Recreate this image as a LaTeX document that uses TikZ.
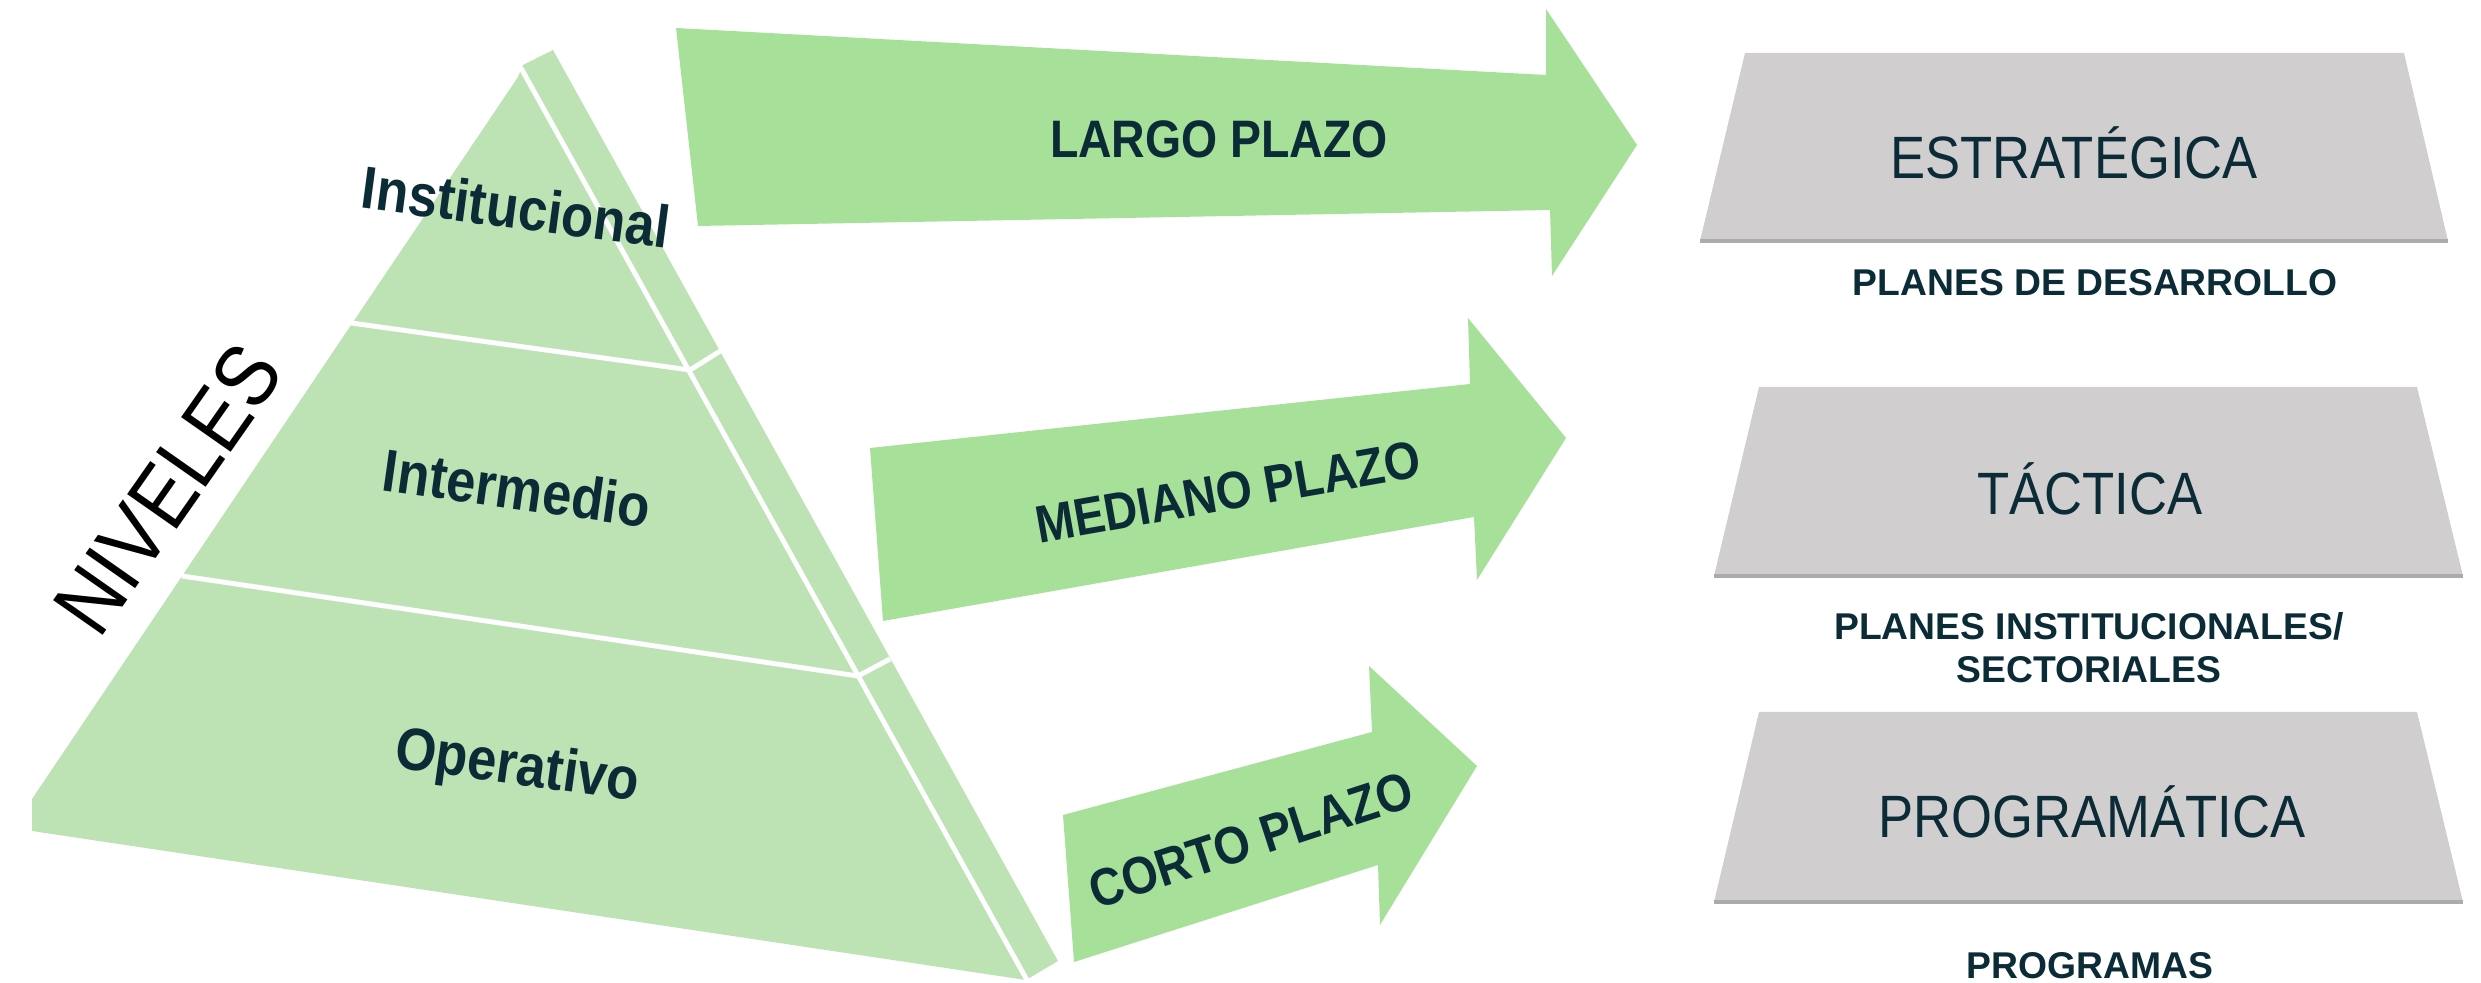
\documentclass[tikz,border=0pt]{standalone}
\usepackage{fontspec}
\setmainfont{Liberation Sans}
\newfontfamily\angosta[FakeStretch=0.88]{Liberation Sans}
\definecolor{pyr}{HTML}{BDE3B5}
\definecolor{flecha}{HTML}{A7E199}
\definecolor{gris}{HTML}{D0CECF}
\definecolor{grisosc}{HTML}{ABABAB}
\definecolor{tinta}{HTML}{0B2C37}

\begin{document}
\begin{tikzpicture}[x=0.01cm, y=-0.01cm,
  nivel/.style={font=\angosta\bfseries\fontsize{17}{20}\selectfont, text=tinta, rotate=-8, inner sep=0},
  plazo/.style={fill=flecha},
  plazotxt/.style={font=\angosta\bfseries\fontsize{15}{18}\selectfont, text=tinta, inner sep=0},
  etapa/.style={fill=gris},
  etapatxt/.style={font=\angosta\fontsize{17}{20}\selectfont, text=tinta, inner sep=0},
  plan/.style={font=\bfseries\fontsize{10.6}{12.2}\selectfont, text=tinta, align=center, inner sep=0},
  corte/.style={white, line width=1.4pt}]

  \useasboundingbox (0,0) rectangle (2481,983);

  % piramide
  \fill[pyr] (518,77) -- (32,799) -- (32,831) -- (1026,980) -- (1058,961)
    -- (553,50) -- (523,65) -- cycle;
  \draw[corte] (521,68) -- (1028,982);
  \draw[corte] (351,323) -- (690,370) -- (722,350);
  \draw[corte] (182,576) -- (858,676) -- (890,659);

  \node[nivel, rotate=0.5] (inst) at (516,207) {Institucional};
  \node[nivel] (inter) at (517,488) {Intermedio};
  \node[nivel] (oper) at (517,769) {Operativo};
  \node[font=\angosta\fontsize{25}{28}\selectfont, rotate=55, inner sep=0] (niveles) at (168,489) {NIVELES};

  % flechas
  \fill[plazo] (676,28) -- (1546,75) -- (1546,9) -- (1637,145) -- (1552,276)
    -- (1550,210) -- (698,226) -- cycle;
  \fill[plazo] (870,448) -- (1470,384) -- (1468,318) -- (1566,438) -- (1477,580)
    -- (1474,517) -- (883,621) -- cycle;
  \fill[plazo] (1063,815) -- (1372,732) -- (1369,666) -- (1477,766) -- (1380,925)
    -- (1378,865) -- (1074,962) -- cycle;

  \node[plazotxt] (largo) at (1219,139) {LARGO PLAZO};
  \node[plazotxt, rotate=10] (mediano) at (1228,492) {MEDIANO PLAZO};
  \node[plazotxt, rotate=18] (corto) at (1251,840) {CORTO PLAZO};

  % planeacion
  \fill[etapa] (1745,53) -- (2404,53) -- (2448,241) -- (1700,241) -- cycle;
  \draw[grisosc, line width=1.1pt] (1700,241) -- (2448,241);
  \fill[etapa] (1759,387) -- (2417,387) -- (2463,576) -- (1714,576) -- cycle;
  \draw[grisosc, line width=1.1pt] (1714,576) -- (2463,576);
  \fill[etapa] (1759,712) -- (2417,712) -- (2463,902) -- (1714,902) -- cycle;
  \draw[grisosc, line width=1.1pt] (1714,902) -- (2463,902);

  \node[etapatxt] (estr) at (2074,153) {ESTRATÉGICA};
  \node[etapatxt] (tact) at (2090,489) {TÁCTICA};
  \node[etapatxt] (prog) at (2092,812) {PROGRAMÁTICA};

  \node[plan] (pdes) at (2095,283) {PLANES DE DESARROLLO};
  \node[plan] (pinst) at (2089,648) {PLANES INSTITUCIONALES/\\SECTORIALES};
  \node[plan] (pprog) at (2090,966) {PROGRAMAS};
\end{tikzpicture}
\end{document}
